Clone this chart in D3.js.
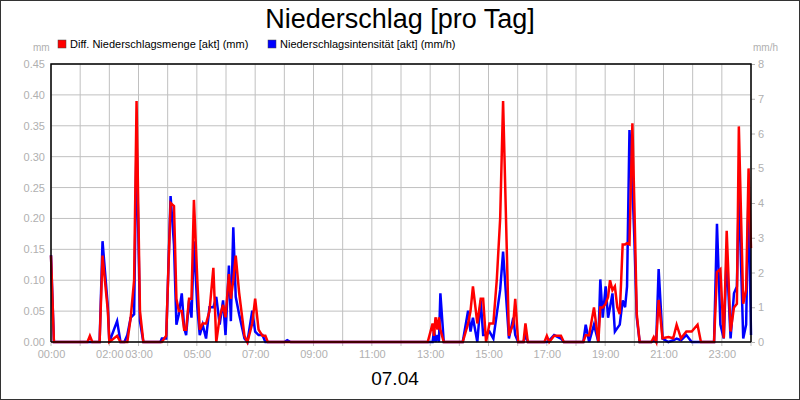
<!DOCTYPE html>
<html><head><meta charset="utf-8">
<script src="https://cdn.jsdelivr.net/npm/d3@7"></script>
<style>body{margin:0;background:#fff}svg{display:block;font-family:"Liberation Sans",Arial,sans-serif}</style>
</head><body><svg id="c" width="800" height="400"></svg>
<script>
const times=["00:00","00:06","01:15","01:20","01:25","01:40","01:46","01:57","02:00","02:16","02:23","02:31","02:37","02:44","02:51","02:56","03:03","03:10","03:45","03:48","03:57","04:06","04:13","04:18","04:23","04:29","04:34","04:38","04:44","04:49","04:54","05:01","05:06","05:12","05:19","05:26","05:34","05:40","05:47","05:54","05:59","06:06","06:10","06:15","06:20","06:27","06:38","06:44","06:54","07:00","07:07","07:15","07:21","07:26","08:00","08:06","08:13","12:55","13:05","13:08","13:11","13:15","13:18","13:21","13:28","14:07","14:18","14:23","14:28","14:37","14:44","14:49","14:55","15:02","15:10","15:17","15:24","15:30","15:42","15:51","15:55","16:01","16:12","16:16","16:21","16:55","17:00","17:05","17:15","17:29","17:35","18:15","18:20","18:27","18:37","18:46","18:50","18:55","19:01","19:06","19:10","19:15","19:20","19:25","19:30","19:36","19:41","19:45","19:50","19:56","20:00","20:05","20:11","20:35","20:40","20:45","20:50","20:58","21:10","21:20","21:27","21:36","21:47","21:58","22:10","22:17","22:44","22:50","22:57","23:04","23:10","23:18","23:25","23:31","23:35","23:44","23:50","23:55","24:00"];
const mengeMm=[0.14,0,0,0.01,0,0,0.14,0.05,0,0.01,0,0,0,0.04,0.1,0.39,0.05,0,0,0,0.01,0.225,0.22,0.07,0.05,0.05,0.02,0.02,0.07,0.07,0.23,0.1,0.02,0.03,0.03,0.05,0.12,0,0.04,0.06,0.04,0.11,0.07,0.1,0.14,0.08,0.01,0,0.03,0.07,0.02,0.01,0.01,0,0,0,0,0,0.03,0.01,0.04,0.02,0.04,0.02,0,0,0.03,0.05,0.09,0.03,0.07,0.07,0,0.03,0.03,0.1,0.2,0.39,0.01,0.03,0.07,0,0,0.03,0,0,0.01,0,0.01,0.01,0,0,0.011,0.011,0.056,0,0.056,0.056,0.062,0.073,0.10,0.084,0.09,0.056,0.045,0.158,0.158,0.16,0.158,0.354,0.225,0.045,0,0,0.008,0,0.068,0.006,0.008,0.006,0.028,0.006,0.017,0.017,0.028,0,0,0.113,0.118,0.006,0.18,0.017,0.056,0.062,0.349,0.062,0.084,0.281,0.152];
const intensMmh=[2.5,0,0,0,0,0,2.9,1.0,0,0.6,0,0,0.2,0.7,0.8,5.9,0.6,0,0,0.1,0.1,4.2,2.8,0.5,0.8,1.4,0.4,0.2,1.2,0.7,2.9,1.0,0.2,0.5,0.1,1.0,1.0,1.3,0.5,1.2,0.2,2.2,0.6,3.3,1.3,0.8,0.1,0,0.9,0.3,0.2,0.2,0,0,0,0.05,0,0,0,0.35,0,0.2,0,1.4,0,0,0.9,0.3,0.7,0,1.2,0.2,0.2,0.3,0.1,0.8,1.5,2.6,0.1,0.7,0.2,0,0,0.2,0,0,0,0.05,0.2,0.1,0,0,0.5,0,0.5,0,1.8,0.7,1.6,0.7,1.0,1.4,0.3,0.4,0.5,1.2,1.0,1.6,6.1,4.5,3.0,0.7,0,0,0.05,0,2.1,0.1,0,0.05,0.1,0.05,0.2,0,0,0,0,3.4,0.5,0.1,2.5,0.1,1.4,1.6,4.4,0.1,0.5,4.4,0.2];
const leftTicks=[0,0.05,0.10,0.15,0.20,0.25,0.30,0.35,0.40,0.45];
const rightTicks=[0,1,2,3,4,5,6,7,8];
const xLabels=["00:00","02:00","03:00","05:00","07:00","09:00","11:00","13:00","15:00","17:00","19:00","21:00","23:00"];
const hours=d3.range(0,25);

const svg=d3.select("#c");
const L=51,R=751,T=64,B=342;
const toH=s=>{const[a,b]=s.split(":").map(Number);return a+b/60;};
const x=d3.scaleLinear().domain([0,24]).range([L,R]);
const yL=d3.scaleLinear().domain([0,0.45]).range([B,T]);
const yR=d3.scaleLinear().domain([0,8]).range([B,T]);
const grey="#b0b0b0";
svg.append("rect").attr("x",0.5).attr("y",0.5).attr("width",799).attr("height",399).attr("fill","#fff").attr("stroke","#333");
svg.append("text").attr("x",400).attr("y",28).attr("text-anchor","middle").attr("font-size",27).text("Niederschlag [pro Tag]");
// legend
const lg=[["#f00","Diff. Niederschlagsmenge [akt] (mm)",58],["#00f","Niederschlagsintensität [akt] (mm/h)",268]];
lg.forEach(([c,t,lx])=>{svg.append("rect").attr("x",lx).attr("y",40).attr("width",8).attr("height",8).attr("fill",c).attr("stroke","#444").attr("stroke-width",0.5);
svg.append("text").attr("x",lx+12).attr("y",48).attr("font-size",11).text(t);});
svg.append("text").attr("x",33).attr("y",51).attr("font-size",10).attr("fill",grey).text("mm");
svg.append("text").attr("x",753).attr("y",51).attr("font-size",10).attr("fill",grey).text("mm/h");
// grid
const g=svg.append("g");
g.selectAll(".vg").data(hours).join("line").attr("x1",d=>x(d)).attr("x2",d=>x(d)).attr("y1",T).attr("y2",B+4).attr("stroke","#c0c0c0");
g.selectAll(".hg").data(leftTicks).join("line").attr("x1",L).attr("x2",R).attr("y1",d=>yL(d)).attr("y2",d=>yL(d)).attr("stroke","#c0c0c0");
// axes
const axL=d3.axisLeft(yL).tickValues(leftTicks).tickFormat(d3.format(".2f")).tickSize(0).tickPadding(6);
const aL=svg.append("g").attr("transform",`translate(${L},0)`).call(axL);
const axR=d3.axisRight(yR).tickValues(rightTicks).tickFormat(d3.format("d")).tickSize(4).tickPadding(3);
const aR=svg.append("g").attr("transform",`translate(${R},0)`).call(axR);
const axB=d3.axisBottom(x).tickValues(xLabels.map(toH)).tickFormat((d,i)=>xLabels[i]).tickSize(0).tickPadding(8);
const aB=svg.append("g").attr("transform",`translate(0,${B})`).call(axB);
[aL,aR,aB].forEach(a=>{a.selectAll("text").attr("fill",grey).attr("font-size",11).attr("font-family","Liberation Sans, Arial, sans-serif");a.select(".domain").remove();a.selectAll("line").attr("stroke",grey);});
// lines
const pts=times.map((t,i)=>({h:toH(t),m:mengeMm[i],b:intensMmh[i]}));
svg.append("path").datum(pts).attr("fill","none").attr("stroke","#00f").attr("stroke-width",2.5).attr("d",d3.line().x(d=>x(d.h)).y(d=>yR(d.b)));
svg.append("path").datum(pts).attr("fill","none").attr("stroke","#f00").attr("stroke-width",2.5).attr("d",d3.line().x(d=>x(d.h)).y(d=>yL(d.m)));
// frame
svg.append("path").attr("d",`M${L},${B}V${T}H${R}V${B}`).attr("fill","none").attr("stroke","#000").attr("stroke-width",1.5);
svg.append("line").attr("x1",L).attr("x2",R).attr("y1",B).attr("y2",B).attr("stroke","#000").attr("stroke-width",1.5);
svg.append("text").attr("x",395).attr("y",385).attr("text-anchor","middle").attr("font-size",19).text("07.04");
</script></body></html>
